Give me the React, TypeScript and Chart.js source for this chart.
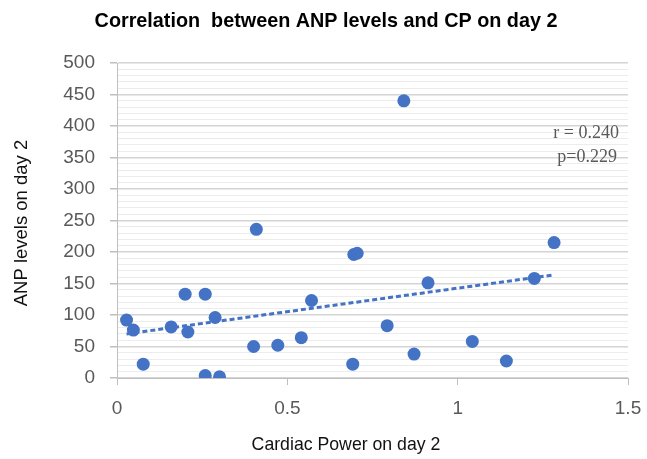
import React, { useEffect, useRef } from "react";
import { Chart, registerables } from "chart.js";

Chart.register(...registerables);

const cardiacPowerDay2 = [0.028, 0.048, 0.077, 0.159, 0.2, 0.208, 0.259, 0.259, 0.288, 0.301, 0.401, 0.409, 0.472, 0.541, 0.571, 0.692, 0.695, 0.705, 0.793, 0.842, 0.872, 0.913, 1.043, 1.143, 1.225, 1.283];
const anpDay2 = [92, 76, 22, 81, 133, 73, 133, 4, 96, 2, 50, 236, 52, 64, 123, 22, 196, 198, 83, 440, 38, 151, 58, 27, 158, 215];
const trendX = [0.028, 1.28];
const trendY = [70, 163.5];

const titleText = "Correlation  between ANP levels and CP on day 2";
const xTitle = "Cardiac Power on day 2";
const yTitle = "ANP levels on day 2";
const statLines = ["r = 0.240", "p=0.229"];

const BLUE = "#4472C4";
const TICK_GREY = "#595959";
const AXIS_GREY = "#bfbfbf";
const MAJOR_GRID = "#d4d4d4";
const MINOR_GRID = "#ececec";
const SANS = "'Liberation Sans', Arial, sans-serif";

const textPlugin = {
  id: "textPlugin",
  afterDraw(chart: any) {
    const ctx = chart.ctx;
    ctx.save();
    ctx.fillStyle = "#000";
    ctx.textBaseline = "middle";
    ctx.textAlign = "center";
    ctx.font = `bold 19.8px ${SANS}`;
    ctx.fillText(titleText, 326, 22);
    ctx.font = `17.7px ${SANS}`;
    ctx.fillStyle = "#111";
    ctx.fillText(xTitle, 346, 445);
    ctx.save();
    ctx.translate(22, 223);
    ctx.rotate(-Math.PI / 2);
    ctx.font = `18.5px ${SANS}`;
    ctx.fillText(yTitle, 0, 0);
    ctx.restore();
    ctx.fillStyle = TICK_GREY;
    ctx.textAlign = "right";
    ctx.font = "18px 'Liberation Serif', 'Times New Roman', serif";
    ctx.fillText(statLines[0], 619, 133);
    ctx.fillText(statLines[1], 617, 157);
    ctx.restore();
  },
};

export default function App() {
  const ref = useRef<HTMLCanvasElement>(null);
  useEffect(() => {
    if (!ref.current) return;
    const points = cardiacPowerDay2.map((x, i) => ({ x, y: anpDay2[i] }));
    const trend = trendX.map((x, i) => ({ x, y: trendY[i] }));
    const chart = new Chart(ref.current, {
      type: "scatter",
      data: {
        datasets: [
          {
            type: "line",
            data: trend,
            borderColor: BLUE,
            borderWidth: 3,
            borderDash: [5, 3],
            pointRadius: 0,
            fill: false,
          } as any,
          {
            data: points,
            backgroundColor: BLUE,
            borderColor: BLUE,
            pointRadius: 6.5,
            borderWidth: 0,
          },
        ],
      },
      options: {
        animation: false,
        responsive: false,
        layout: { padding: { left: 0, top: 63, right: 19, bottom: 0 } },
        plugins: { legend: { display: false }, tooltip: { enabled: false }, title: { display: false } },
        scales: {
          x: {
            type: "linear",
            min: 0,
            max: 1.5,
            afterFit: (s: any) => {
              s.height = 81;
              s.paddingLeft = 0;
              s.paddingRight = 0;
            },
            ticks: {
              stepSize: 0.5,
              color: TICK_GREY,
              padding: 12,
              font: { family: SANS, size: 19 },
              callback: (v: any) => String(Number(v)),
            },
            grid: { drawOnChartArea: false, drawTicks: true, tickLength: 7, tickColor: AXIS_GREY },
            border: { color: AXIS_GREY, width: 1 },
          },
          y: {
            type: "linear",
            min: 0,
            max: 500,
            afterFit: (s: any) => {
              s.width = 117;
              s.paddingTop = 0;
              s.paddingBottom = 0;
            },
            ticks: {
              stepSize: 10,
              autoSkip: false,
              color: TICK_GREY,
              padding: 15,
              font: { family: SANS, size: 19 },
              callback: (v: any) => (Number(v) % 50 === 0 ? String(v) : ""),
            },
            grid: {
              color: (c: any) => (c.tick && c.tick.value % 50 === 0 ? MAJOR_GRID : MINOR_GRID),
              lineWidth: (c: any) => (c.tick && c.tick.value % 50 === 0 ? 1.5 : 1),
              tickColor: (c: any) => (c.tick && c.tick.value % 50 === 0 ? AXIS_GREY : "rgba(0,0,0,0)"),
              tickLength: 7,
            },
            border: { color: AXIS_GREY, width: 1 },
          },
        },
      },
      plugins: [textPlugin],
    });
    return () => chart.destroy();
  }, []);
  return (
    <div style={{ position: "fixed", left: 0, top: 0, width: 647, height: 459, background: "#fff" }}>
      <canvas ref={ref} width={647} height={459} />
    </div>
  );
}
